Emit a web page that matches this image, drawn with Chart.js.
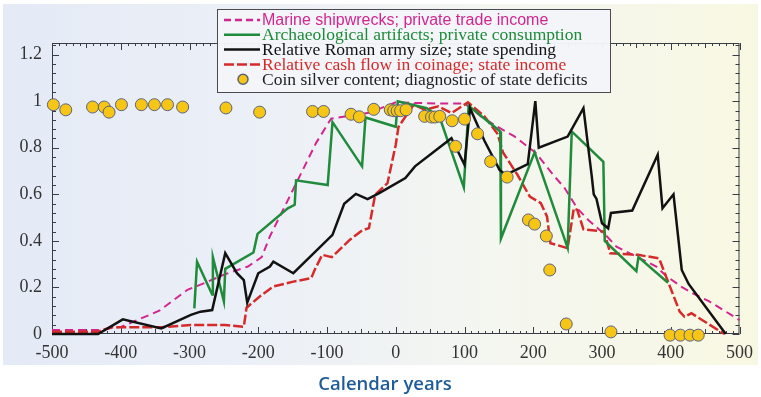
<!DOCTYPE html>
<html>
<head>
<meta charset="utf-8">
<script src="https://cdn.jsdelivr.net/npm/chart.js@4/dist/chart.umd.min.js"></script>
<style>
  html, body { margin: 0; padding: 0; background: #fff; }
  #wrap { position: relative; width: 761px; height: 397px; overflow: hidden; }
  #panel {
    position: absolute; left: 3px; top: 4px; width: 755px; height: 361px;
    background: linear-gradient(to right, #e4eaf6 0%, #ecf0f7 35%, #f4f6f0 65%, #f8f8e2 100%);
  }
  #chart { position: absolute; left: 0; top: 0; }
  #xlabel {
    position: absolute; left: 0; top: 370px; width: 770px; text-align: center;
    font: 600 18.5px 'Open Sans', sans-serif; color: #1f5b98;
  }
</style>
</head>
<body>
<div id="wrap">
  <div id="panel"></div>
  <canvas id="chart" width="761" height="397"></canvas>
  <div id="xlabel">Calendar years</div>
</div>
<script>
// axis ticks
const xTicks = [-500, -400, -300, -200, -100, 0, 100, 200, 300, 400, 500];
const yTicks = [0, 0.2, 0.4, 0.6, 0.8, 1, 1.2];

// marine shipwrecks (dashed magenta)
const wreckYears = [-500, -433, -399, -344, -303, -277, -250, -215, -195, -183, -146, -116, -94, -72, -39, 0, 60, 100, 124, 148, 172, 203, 230, 245, 264, 280, 307, 321, 379, 393, 417, 432, 456, 500];
const wreckValues = [0.017, 0.017, 0.031, 0.10, 0.19, 0.22, 0.255, 0.29, 0.33, 0.42, 0.64, 0.82, 0.925, 0.935, 0.95, 0.995, 0.99, 0.99, 0.935, 0.89, 0.85, 0.78, 0.68, 0.63, 0.54, 0.49, 0.42, 0.375, 0.29, 0.25, 0.2, 0.175, 0.14, 0.06];

// archaeological artifacts (green)
const artifactYears = [-293, -289, -267, -266, -250, -248, -207, -201, -157, -147, -145, -99, -92, -49, -44, 0, 3, 45, 64, 99, 106, 152, 153, 202, 250, 256, 302, 304, 350, 353, 396];
const artifactValues = [0.11, 0.31, 0.17, 0.33, 0.14, 0.28, 0.35, 0.43, 0.54, 0.555, 0.66, 0.64, 0.91, 0.72, 0.93, 0.89, 1.0, 0.97, 0.93, 0.63, 0.98, 0.87, 0.41, 0.78, 0.37, 0.87, 0.74, 0.40, 0.27, 0.33, 0.22];

// army size (black)
const armyYears = [-500, -433, -397, -341, -298, -284, -267, -248, -231, -221, -216, -200, -183, -178, -149, -92, -75, -58, -41, -24, 14, 28, 81, 100, 108, 129, 151, 160, 192, 203, 208, 250, 273, 285, 288, 292, 300, 309, 313, 344, 381, 388, 404, 416, 426, 480];
const armyValues = [0, 0, 0.063, 0.024, 0.082, 0.096, 0.103, 0.347, 0.261, 0.232, 0.135, 0.261, 0.29, 0.311, 0.261, 0.426, 0.559, 0.602, 0.579, 0.605, 0.67, 0.72, 0.841, 0.727, 0.97, 0.83, 0.705, 0.684, 0.73, 1.0, 0.8, 0.848, 0.97, 0.68, 0.60, 0.58, 0.476, 0.454, 0.52, 0.53, 0.77, 0.54, 0.60, 0.275, 0.215, 0];

// cash flow in coinage (red)
const cashYears = [-500, -433, -414, -341, -298, -248, -221, -217, -197, -178, -149, -123, -118, -107, -93, -67, -49, -39, -30, -12, 0, 4, 26, 43, 62, 81, 105, 129, 148, 156, 177, 195, 211, 220, 225, 250, 259, 264, 273, 303, 312, 352, 383, 398, 413, 420, 430, 478];
const cashValues = [0.01, 0.01, 0.029, 0.029, 0.039, 0.039, 0.031, 0.113, 0.163, 0.204, 0.225, 0.24, 0.275, 0.34, 0.33, 0.404, 0.445, 0.455, 0.598, 0.648, 0.813, 0.89, 0.985, 0.963, 0.978, 0.949, 0.995, 0.935, 0.86, 0.78, 0.684, 0.59, 0.562, 0.505, 0.39, 0.369, 0.54, 0.533, 0.45, 0.44, 0.347, 0.34, 0.325, 0.21, 0.096, 0.074, 0.089, 0];

// coin silver content (yellow dots)
const coinYears = [-498, -480, -441, -424, -417, -399, -370, -351, -332, -310, -247, -198, -121, -105, -65, -53, -32, -8, -3, 2, 7, 15, 42, 52, 57, 64, 82, 87, 100, 119, 138, 162, 193, 202, 219, 224, 248, 313, 399, 414, 428, 440];
const coinValues = [0.985, 0.963, 0.975, 0.975, 0.953, 0.985, 0.985, 0.985, 0.985, 0.975, 0.971, 0.953, 0.956, 0.956, 0.944, 0.933, 0.965, 0.963, 0.959, 0.959, 0.959, 0.963, 0.935, 0.932, 0.932, 0.935, 0.916, 0.806, 0.923, 0.86, 0.741, 0.674, 0.49, 0.472, 0.421, 0.275, 0.043, 0.009, -0.005, -0.005, -0.005, -0.005];

const pairs = (xs, ys) => xs.map((x, i) => ({ x, y: ys[i] }));

const lineBase = { showLine: true, pointRadius: 0, pointHoverRadius: 0, fill: false, tension: 0, clip: false };

const datasets = [
  { ...lineBase, label: 'Marine shipwrecks; private trade income', data: pairs(wreckYears, wreckValues),
    borderColor: '#d3258f', borderWidth: 2, borderDash: [8, 5], order: 4,
    legendFont: '16px "Liberation Sans"', legendDash: [7, 4] },
  { ...lineBase, label: 'Archaeological artifacts; private consumption', data: pairs(artifactYears, artifactValues),
    borderColor: '#1f8b3b', borderWidth: 2.5, order: 2 },
  { ...lineBase, label: 'Relative Roman army size; state spending', data: pairs(armyYears, armyValues),
    borderColor: '#121212', borderWidth: 2.5, order: 1 },
  { ...lineBase, label: 'Relative cash flow in coinage; state income', data: pairs(cashYears, cashValues),
    borderColor: '#d62a2a', borderWidth: 2.5, borderDash: [10, 3], order: 3, legendDash: [10, 3] },
  { label: 'Coin silver content; diagnostic of state deficits', data: pairs(coinYears, coinValues),
    showLine: false, pointRadius: 6, pointHoverRadius: 6, pointBackgroundColor: '#f6c516',
    pointBorderColor: '#5b6379', pointBorderWidth: 1, clip: false, order: 0, legendTextColor: '#222' }
];

// box frame with inward major/minor ticks on all four sides
const frameTicks = {
  id: 'frameTicks',
  beforeDatasetsDraw(chart) {
    const { ctx, chartArea: a, scales: { x, y } } = chart;
    ctx.save();
    ctx.strokeStyle = '#3a3c46';
    ctx.lineWidth = 1;
    ctx.strokeRect(a.left + 0.5, a.top + 0.5, a.right - a.left - 1, a.bottom - a.top - 1);
    ctx.beginPath();
    for (let v = -500; v <= 500; v += 10) {
      const px = Math.round(x.getPixelForValue(v)) + 0.5;
      const len = v % 100 === 0 ? 7 : (v % 50 === 0 ? 5 : 3);
      ctx.moveTo(px, a.bottom); ctx.lineTo(px, a.bottom - len);
      ctx.moveTo(px, a.top); ctx.lineTo(px, a.top + len);
    }
    for (let k = 0; k <= 31; k++) {
      const py = Math.round(y.getPixelForValue(k * 0.04)) + 0.5;
      const len = k % 5 === 0 ? 7 : 4;
      ctx.moveTo(a.left, py); ctx.lineTo(a.left + len, py);
      ctx.moveTo(a.right, py); ctx.lineTo(a.right - len, py);
    }
    ctx.stroke();
    ctx.restore();
  }
};

// boxed legend over the top of the plot
const boxLegend = {
  id: 'boxLegend',
  afterDraw(chart) {
    const { ctx } = chart;
    const box = { left: 217, top: 9, width: 393, height: 83 };
    ctx.save();
    ctx.fillStyle = 'rgba(243,245,249,0.97)';
    ctx.fillRect(box.left, box.top, box.width, box.height);
    ctx.strokeStyle = '#4a4a50';
    ctx.lineWidth = 1;
    ctx.strokeRect(box.left + 0.5, box.top + 0.5, box.width, box.height);
    chart.data.datasets.forEach((ds, i) => {
      const cy = 20 + i * 14.8;
      const x0 = 224, x1 = 260;
      if (ds.showLine) {
        ctx.strokeStyle = ds.borderColor;
        ctx.lineWidth = 2.5;
        ctx.setLineDash(ds.legendDash || []);
        ctx.beginPath();
        ctx.moveTo(x0, cy); ctx.lineTo(x1, cy);
        ctx.stroke();
        ctx.setLineDash([]);
      } else {
        ctx.fillStyle = ds.pointBackgroundColor;
        ctx.strokeStyle = ds.pointBorderColor;
        ctx.lineWidth = 1.5;
        ctx.beginPath();
        ctx.arc(243, cy, 5, 0, Math.PI * 2);
        ctx.fill(); ctx.stroke();
      }
      ctx.font = ds.legendFont || '17.5px "Liberation Serif"';
      ctx.fillStyle = ds.legendTextColor || ds.borderColor;
      ctx.textBaseline = 'middle';
      ctx.textAlign = 'left';
      ctx.fillText(ds.label, 262, cy + 1);
    });
    ctx.restore();
  }
};

const tickFont = { family: '"Liberation Serif", serif', size: 18 };

new Chart(document.getElementById('chart'), {
  type: 'scatter',
  data: { datasets },
  options: {
    responsive: false,
    animation: false,
    events: [],
    layout: { padding: { top: 43, right: 16, left: 0, bottom: 0 } },
    plugins: { legend: { display: false }, tooltip: { enabled: false } },
    scales: {
      x: {
        type: 'linear', min: -500, max: 500,
        afterBuildTicks: (s) => { s.ticks = xTicks.map((v) => ({ value: v })); },
        afterFit: (s) => { s.height = 63; },
        ticks: { font: tickFont, color: '#333', padding: 8, maxRotation: 0, autoSkip: false, callback: (v) => String(v) },
        grid: { display: false, drawTicks: false },
        border: { display: false }
      },
      y: {
        type: 'linear', min: 0, max: 1.25,
        afterBuildTicks: (s) => { s.ticks = yTicks.map((v) => ({ value: v })); },
        afterFit: (s) => { s.width = 52; },
        ticks: { font: tickFont, color: '#333', padding: 10, autoSkip: false, callback: (v) => String(v) },
        grid: { display: false, drawTicks: false },
        border: { display: false }
      }
    }
  },
  plugins: [frameTicks, boxLegend]
});
</script>
</body>
</html>
